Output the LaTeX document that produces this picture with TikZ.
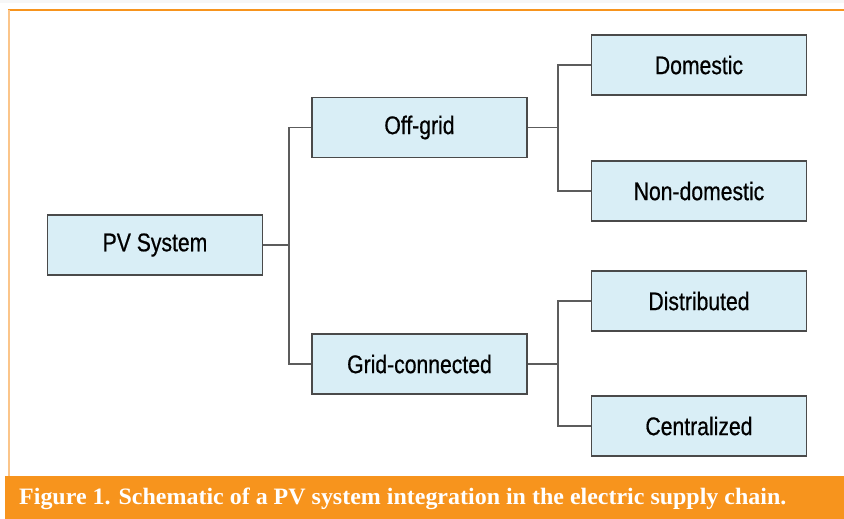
\documentclass[tikz,border=0pt]{standalone}
\usepackage{fontspec}
\setmainfont{Liberation Sans}
\newfontfamily\boxfont[FakeStretch=0.83,FakeBold=0.6]{Liberation Sans}
\newfontfamily\capfont[FakeStretch=1.02]{Liberation Serif}
\definecolor{boxfill}{HTML}{D9EEF6}
\definecolor{boxline}{HTML}{4A4A4A}
\definecolor{orangebar}{HTML}{F7941D}
\definecolor{orangelight}{HTML}{FBC58A}
\begin{document}
\begin{tikzpicture}[x=1pt,y=-1pt,
  cat/.style={draw=boxline, line width=1.6pt, fill=boxfill, minimum width=215pt, minimum height=60pt, inner sep=0pt, font=\boxfont\fontsize{25.5}{28}\selectfont, text=black},
  conn/.style={draw=boxline!90, line width=1.4pt}]
\useasboundingbox (0,0) rectangle (844,519);
\fill[black!3] (0,0) rectangle (844,3);
\draw[orangebar, line width=1.5pt] (8,10) -- (844,10);
\draw[orangelight, line width=2pt] (9,10) -- (9,476);
\fill[orangebar] (5,476) rectangle (844,519);
\node[anchor=base west, text=white, inner sep=0pt, font=\capfont\bfseries\fontsize{23.5}{25}\selectfont] (cap) at (19,504) {Figure 1. Schematic of a PV system integration in the electric supply chain.};
\node[cat] (pv) at (155,245) {PV System};
\node[cat] (off) at (419.5,127.5) {Off-grid};
\node[cat] (grid) at (419.5,364) {Grid-connected};
\node[cat] (dom) at (699,65) {Domestic};
\node[cat] (nondom) at (699,191) {Non-domestic};
\node[cat] (dist) at (699,301) {Distributed};
\node[cat] (cent) at (699,426) {Centralized};
\coordinate (b1) at (289,245);
\coordinate (b2) at (558,127.5);
\coordinate (b3) at (558,364);
\draw[conn] (pv.east) -- (b1);
\draw[conn] (off.west) -| (b1) |- (grid.west);
\draw[conn] (off.east) -- (b2);
\draw[conn] (dom.west) -| (b2) |- (nondom.west);
\draw[conn] (grid.east) -- (b3);
\draw[conn] (dist.west) -| (b3) |- (cent.west);
\end{tikzpicture}
\end{document}
